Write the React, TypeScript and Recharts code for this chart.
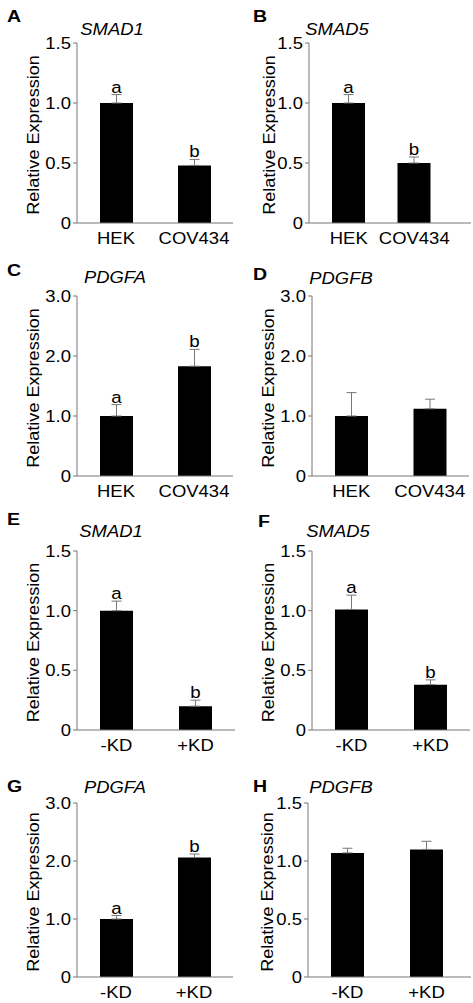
import { BarChart, Bar, XAxis, YAxis, ErrorBar, LabelList } from "recharts"

const cellLines = ["HEK", "COV434"]
const knockdown = ["-KD", "+KD"]

const smad1Cell = [1.0, 0.48]
const smad1CellErr = [0.07, 0.05]
const smad5Cell = [1.0, 0.5]
const smad5CellErr = [0.07, 0.05]
const pdgfaCell = [1.0, 1.83]
const pdgfaCellErr = [0.19, 0.28]
const pdgfbCell = [1.0, 1.12]
const pdgfbCellErr = [0.39, 0.16]

const smad1Kd = [1.0, 0.2]
const smad1KdErr = [0.08, 0.05]
const smad5Kd = [1.01, 0.38]
const smad5KdErr = [0.12, 0.04]
const pdgfaKd = [1.0, 2.06]
const pdgfaKdErr = [0.06, 0.06]
const pdgfbKd = [1.07, 1.1]
const pdgfbKdErr = [0.04, 0.07]

const sigAB = ["a", "b"]
const noSig = ["", ""]

const ticksLow = [0, 0.5, 1.0, 1.5]
const ticksHigh = [0, 1, 2, 3]

const FONT = "'Liberation Sans', Arial, Helvetica, sans-serif"
const AXIS = "#777"

const makeRows = (cats: string[], vals: number[], errs: number[], sig: string[]) =>
  cats.map((c, i) => ({ name: c, value: vals[i], err: [0, errs[i]], sig: sig[i] }))

const fmt = (v: number) => (v === 0 ? "0" : v.toFixed(1))

// the figure's font is wider than Arial, so texts get a horizontal stretch
const YTick = (props: any) => {
  const { x, y, payload } = props
  return (
    <g transform={`translate(${x},${y})`}>
      <text textAnchor="end" dy="0.36em" transform="scale(1.12,1)" fontSize={16.5} fontFamily={FONT} fill="#000">
        {fmt(payload.value)}
      </text>
    </g>
  )
}

const XTick = (props: any) => {
  const { x, y, payload } = props
  return (
    <g transform={`translate(${x},${y})`}>
      <text textAnchor="middle" dy="0.71em" transform="scale(1.12,1)" fontSize={16.5} fontFamily={FONT} fill="#000">
        {payload.value}
      </text>
    </g>
  )
}

type PanelProps = {
  letter: string
  title: string
  rows: any[]
  ticks: number[]
  left: number
  top: number
  axisX: number
  axisEnd: number
  plotTop: number
  plotBottom: number
  padL?: number
  padR?: number
  letterX: number
  letterY: number
  titleX: number
  titleY: number
  labelX: number
}

const W = 236
const H = 262
const YW = 40
const XH = 30

function Panel(p: PanelProps) {
  const margin = {
    left: p.axisX - p.left - YW,
    right: p.left + W - p.axisEnd,
    top: p.plotTop - p.top,
    bottom: p.top + H - p.plotBottom - XH,
  }
  const rows = p.rows
  const sigLabel = (lp: any) => {
    const { x, y, width, height, index } = lp
    const row = rows[index]
    if (!row || !row.sig) return null
    const unit = height / row.value
    const errTop = y - row.err[1] * unit
    return (
      <g transform={`translate(${x + width / 2},${errTop - 2})`}>
        <text textAnchor="middle" transform="scale(1.1,1)" fontSize={17} fontFamily={FONT} fill="#000">
          {row.sig}
        </text>
      </g>
    )
  }
  const cy = (p.plotTop + p.plotBottom) / 2 + 2
  return (
    <>
      <div style={{ position: "absolute", left: p.left, top: p.top }}>
        <BarChart width={W} height={H} data={rows} margin={margin} barSize={33}>
          <XAxis
            dataKey="name"
            height={XH}
            tickLine={false}
            tickSize={0}
            tickMargin={9}
            axisLine={{ stroke: AXIS }}
            tick={<XTick />}
            padding={{ left: p.padL ?? 0, right: p.padR ?? 0 }}
            interval={0}
          />
          <YAxis
            width={YW}
            domain={[0, p.ticks[p.ticks.length - 1]]}
            ticks={p.ticks}
            interval={0}
            tickSize={4}
            tickMargin={2}
            axisLine={{ stroke: AXIS }}
            tickLine={{ stroke: AXIS }}
            tick={<YTick />}
          />
          <Bar dataKey="value" fill="#000" isAnimationActive={false}>
            <ErrorBar dataKey="err" width={5} stroke={AXIS} strokeWidth={1} direction="y" />
            <LabelList dataKey="sig" content={sigLabel} />
          </Bar>
        </BarChart>
      </div>
      <svg
        width={473}
        height={1003}
        style={{ position: "absolute", left: 0, top: 0, pointerEvents: "none" }}
      >
        <g transform={`translate(${p.letterX},${p.letterY})`}>
          <text transform="scale(1.15,1)" fontSize={17} fontWeight="bold" fontFamily={FONT} fill="#000">
            {p.letter}
          </text>
        </g>
        <g transform={`translate(${p.titleX},${p.titleY})`}>
          <text textAnchor="middle" transform="scale(1.15,1)" fontSize={16} fontStyle="italic" fontFamily={FONT} fill="#000">
            {p.title}
          </text>
        </g>
        <g transform={`translate(${p.labelX},${cy}) rotate(-90) scale(1.13,1)`}>
          <text textAnchor="middle" dy="0.35em" fontSize={16} fontFamily={FONT} fill="#000">
            Relative Expression
          </text>
        </g>
      </svg>
    </>
  )
}

export default function App() {
  return (
    <div style={{ position: "absolute", left: 0, top: 0, width: 473, height: 1003, background: "#fff" }}>
      <Panel letter="A" title="SMAD1" rows={makeRows(cellLines, smad1Cell, smad1CellErr, sigAB)} ticks={ticksLow}
        left={0} top={0} axisX={77} axisEnd={233} plotTop={43} plotBottom={223}
        letterX={7} letterY={22} titleX={112} titleY={35} labelX={33.5} />
      <Panel letter="B" title="SMAD5" rows={makeRows(cellLines, smad5Cell, smad5CellErr, sigAB)} ticks={ticksLow}
        left={236} top={0} axisX={309} axisEnd={471} plotTop={43} plotBottom={223} padL={7} padR={24}
        letterX={253} letterY={22} titleX={337} titleY={35} labelX={269.5} />
      <Panel letter="C" title="PDGFA" rows={makeRows(cellLines, pdgfaCell, pdgfaCellErr, sigAB)} ticks={ticksHigh}
        left={0} top={250} axisX={77} axisEnd={233} plotTop={296} plotBottom={476}
        letterX={7} letterY={276} titleX={115} titleY={283} labelX={33.5} />
      <Panel letter="D" title="PDGFB" rows={makeRows(cellLines, pdgfbCell, pdgfbCellErr, noSig)} ticks={ticksHigh}
        left={236} top={250} axisX={312} axisEnd={469} plotTop={296} plotBottom={476}
        letterX={253} letterY={280} titleX={341} titleY={284} labelX={268} />
      <Panel letter="E" title="SMAD1" rows={makeRows(knockdown, smad1Kd, smad1KdErr, sigAB)} ticks={ticksLow}
        left={0} top={500} axisX={77} axisEnd={235} plotTop={551} plotBottom={730}
        letterX={7} letterY={525} titleX={111} titleY={537} labelX={33.5} />
      <Panel letter="F" title="SMAD5" rows={makeRows(knockdown, smad5Kd, smad5KdErr, sigAB)} ticks={ticksLow}
        left={236} top={500} axisX={312} axisEnd={470} plotTop={551} plotBottom={730}
        letterX={258} letterY={527} titleX={338} titleY={537} labelX={268} />
      <Panel letter="G" title="PDGFA" rows={makeRows(knockdown, pdgfaKd, pdgfaKdErr, sigAB)} ticks={ticksHigh}
        left={0} top={740} axisX={77} axisEnd={233} plotTop={803} plotBottom={977}
        letterX={7} letterY={792} titleX={115} titleY={793} labelX={33.5} />
      <Panel letter="H" title="PDGFB" rows={makeRows(knockdown, pdgfbKd, pdgfbKdErr, noSig)} ticks={ticksLow}
        left={236} top={740} axisX={308} axisEnd={471} plotTop={803} plotBottom={977} padR={5}
        letterX={253} letterY={792} titleX={341} titleY={793} labelX={267.5} />
    </div>
  )
}
